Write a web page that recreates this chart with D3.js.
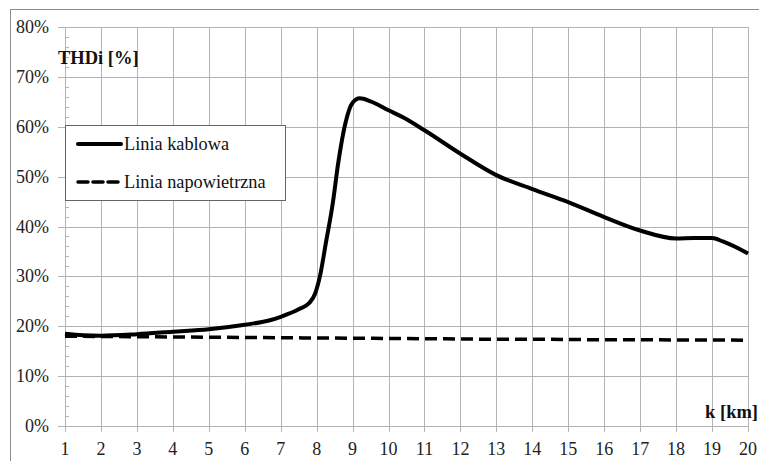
<!DOCTYPE html>
<html><head><meta charset="utf-8">
<script src="https://cdn.jsdelivr.net/npm/d3@7"></script>
<style>body{margin:0;background:#fff}svg{display:block}
text{font-family:"Liberation Serif","Times New Roman","DejaVu Serif",serif;}</style>
</head><body>
<script>
const kCable = [1, 1.5, 2, 3, 4, 5, 6, 6.7, 7, 7.5, 7.8, 7.95, 8.1, 8.25, 8.45, 8.6, 8.8, 9, 9.2, 9.5, 10, 10.4, 11, 12, 13, 14, 15, 16, 17, 18, 18.5, 19, 19.3, 20];
const thdCable = [18.5, 18.2, 18.1, 18.4, 18.9, 19.4, 20.3, 21.2, 21.9, 23.4, 24.7, 26.4, 30.3, 36.4, 44.7, 52.7, 60.7, 64.8, 65.7, 65.1, 63.3, 61.9, 59.3, 54.6, 50.3, 47.5, 44.9, 41.9, 39.2, 37.6, 37.7, 37.7, 37.0, 34.6];
const kOverhead = [1,2,3,4,5,6,7,8,9,10,11,12,13,14,15,16,17,18,19,20];
const thdOverhead = [18.0,17.95,17.9,17.85,17.8,17.75,17.7,17.65,17.6,17.55,17.5,17.45,17.4,17.4,17.35,17.3,17.3,17.25,17.25,17.2];
const xTicks = d3.range(1, 21);
const yTicks = [0,10,20,30,40,50,60,70,80];
const seriesNames = ["Linia kablowa", "Linia napowietrzna"];

const W = 759, H = 461;
const svg = d3.select("body").append("svg").attr("width", W).attr("height", H);
svg.append("rect").attr("x", 10.5).attr("y", 9.5).attr("width", 760).attr("height", 470)
  .attr("fill", "#fff").attr("stroke", "#8c8c8c").attr("stroke-width", 1);

const x = d3.scaleLinear().domain([1, 20]).range([65, 748]);
const y = d3.scaleLinear().domain([0, 80]).range([426, 27]);
const gridC = "#b3b3b3";

svg.append("g").selectAll("line").data(xTicks).join("line")
  .attr("x1", d => Math.round(x(d)) + 0.5).attr("x2", d => Math.round(x(d)) + 0.5)
  .attr("y1", y(80)).attr("y2", y(0) + 6)
  .attr("stroke", gridC).attr("stroke-width", 1);
svg.append("g").selectAll("line").data(yTicks).join("line")
  .attr("x1", x(1) - 7).attr("x2", x(20))
  .attr("y1", d => Math.round(y(d)) + 0.5).attr("y2", d => Math.round(y(d)) + 0.5)
  .attr("stroke", gridC).attr("stroke-width", 1);
const minor = d3.range(0, 80, 2).filter(v => v % 10 !== 0);
svg.append("g").selectAll("line").data(minor).join("line")
  .attr("x1", x(1)).attr("x2", x(1) + 4)
  .attr("y1", d => Math.round(y(d)) + 0.5).attr("y2", d => Math.round(y(d)) + 0.5)
  .attr("stroke", gridC).attr("stroke-width", 1);

svg.append("g").selectAll("text").data(yTicks).join("text")
  .attr("x", 49).attr("y", d => y(d) + 6)
  .attr("text-anchor", "end").attr("font-size", 18)
  .attr("fill", "#222").text(d => d + "%");
svg.append("g").selectAll("text").data(xTicks).join("text")
  .attr("x", d => x(d)).attr("y", 455)
  .attr("text-anchor", "middle").attr("font-size", 18)
  .attr("fill", "#222").text(d => d);

svg.append("text").attr("x", 58).attr("y", 64)
  .attr("font-size", 18.5).attr("font-weight", "bold").attr("fill", "#111").text("THDi [%]");
svg.append("text").attr("x", 758).attr("y", 418).attr("text-anchor", "end")
  .attr("font-size", 18.5).attr("font-weight", "bold").attr("fill", "#111").text("k [km]");

const line = d3.line().x(d => x(d[0])).y(d => y(d[1])).curve(d3.curveMonotoneX);
svg.append("path").datum(kOverhead.map((k, i) => [k, thdOverhead[i]]))
  .attr("d", line).attr("fill", "none").attr("stroke", "#000")
  .attr("stroke-width", 3.5).attr("stroke-dasharray", "12,6");
svg.append("path").datum(kCable.map((k, i) => [k, thdCable[i]]))
  .attr("d", line).attr("fill", "none").attr("stroke", "#000")
  .attr("stroke-width", 4).attr("stroke-linejoin", "round");

const lg = svg.append("g");
lg.append("rect").attr("x", 65.5).attr("y", 125.5).attr("width", 220).attr("height", 75)
  .attr("fill", "#fff").attr("stroke", "#666").attr("stroke-width", 1);
const ly = [144, 182];
seriesNames.forEach((n, i) => {
  lg.append("line").attr("x1", 78).attr("x2", 121).attr("y1", ly[i]).attr("y2", ly[i])
    .attr("stroke", "#000").attr("stroke-width", i ? 3.5 : 4)
    .attr("stroke-dasharray", i ? "10,5" : null).attr("stroke-linecap", "round");
  lg.append("text").attr("x", 124).attr("y", ly[i] + 6)
    .attr("font-size", 18.3).attr("fill", "#111").text(n);
});
</script>
</body></html>
